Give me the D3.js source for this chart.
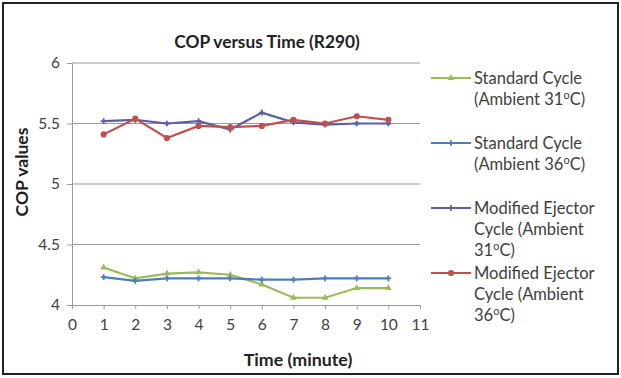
<!DOCTYPE html>
<html><head><meta charset="utf-8">
<script src="https://cdn.jsdelivr.net/npm/d3@7"></script>
<style>body{margin:0;background:#fff;} svg{display:block;}</style>
</head><body>
<svg id="c" width="621" height="378"></svg>
<script>
const minutes = [1,2,3,4,5,6,7,8,9,10];
const std31 = [4.31,4.22,4.26,4.27,4.25,4.17,4.06,4.06,4.14,4.14];
const std36 = [4.23,4.20,4.22,4.22,4.22,4.21,4.21,4.22,4.22,4.22];
const mod31 = [5.52,5.53,5.50,5.52,5.45,5.59,5.51,5.49,5.50,5.50];
const mod36 = [5.41,5.54,5.38,5.48,5.47,5.48,5.53,5.50,5.56,5.53];
const xTicks = [0,1,2,3,4,5,6,7,8,9,10,11];
const yTicks = [4,4.5,5,5.5,6];
const seriesNames = [
  ["Standard Cycle","(Ambient 31","C)"],
  ["Standard Cycle","(Ambient 36","C)"],
  ["Modified Ejector","Cycle (Ambient","31","C)"],
  ["Modified Ejector","Cycle (Ambient","36","C)"]
];
const colors = ["#9bbb59","#4a7ebb","#5b5ea6","#c0504d"];
const data = [std31,std36,mod31,mod36];

const svg = d3.select("#c");
const font = "Lato, 'Open Sans', sans-serif";
svg.append("rect").attr("x",3).attr("y",3).attr("width",615).attr("height",371)
  .attr("fill","#fff").attr("stroke","#222").attr("stroke-width",2);

const x = d3.scaleLinear().domain([0,11]).range([72,420]);
const y = d3.scaleLinear().domain([4,6]).range([305,63]);

// gridlines
svg.append("g").selectAll("line").data(yTicks.filter(d=>d>4)).join("line")
  .attr("x1",72).attr("x2",420).attr("y1",d=>y(d)).attr("y2",d=>y(d))
  .attr("stroke","#9a9a9a").attr("stroke-width",1);

const xAxis = svg.append("g").attr("transform","translate(0,305)")
  .call(d3.axisBottom(x).tickValues(xTicks).tickSize(4).tickPadding(10).tickFormat(d3.format("d")));
const yAxis = svg.append("g").attr("transform","translate(72,0)")
  .call(d3.axisLeft(y).tickValues(yTicks).tickSize(5).tickPadding(7).tickFormat(d=>d));
[xAxis,yAxis].forEach(a=>{
  a.select(".domain").attr("stroke","#9a9a9a");
  a.selectAll(".tick line").attr("stroke","#9a9a9a");
  a.selectAll("text").attr("font-family",font).attr("font-size",15.5).attr("fill","#404040");
});

const line = d3.line().x((d,i)=>x(minutes[i])).y(d=>y(d));
const sym = [d3.symbolTriangle, d3.symbolCross, d3.symbolCross, d3.symbolCircle];
const symSize = [20,18,18,30];
data.forEach((vals,k)=>{
  svg.append("path").datum(vals).attr("d",line).attr("fill","none")
    .attr("stroke",colors[k]).attr("stroke-width",2.2);
  svg.append("g").selectAll("path").data(vals).join("path")
    .attr("transform",(d,i)=>`translate(${x(minutes[i])},${y(d)})`)
    .attr("d",d3.symbol().type(sym[k]).size(symSize[k]))
    .attr("fill",colors[k]);
});

// titles
svg.append("text").attr("x",267).attr("y",48).attr("text-anchor","middle")
  .attr("font-family",font).attr("font-weight","bold").attr("font-size",17.3).attr("fill","#222")
  .text("COP versus Time (R290)");
svg.append("text").attr("x",298).attr("y",366).attr("text-anchor","middle")
  .attr("font-family",font).attr("font-weight","bold").attr("font-size",17.8).attr("fill","#222")
  .text("Time (minute)");
svg.append("text").attr("transform","translate(28,172) rotate(-90)").attr("text-anchor","middle")
  .attr("font-family",font).attr("font-weight","bold").attr("font-size",17.5).attr("fill","#222")
  .text("COP values");

// legend
const legY = [78,143,208,273];
seriesNames.forEach((lines,k)=>{
  const g = svg.append("g");
  g.append("line").attr("x1",431).attr("x2",471).attr("y1",legY[k]).attr("y2",legY[k])
    .attr("stroke",colors[k]).attr("stroke-width",2.2);
  g.append("path").attr("transform",`translate(451,${legY[k]})`)
    .attr("d",d3.symbol().type(sym[k]).size(symSize[k])).attr("fill",colors[k]);
  const t = g.append("text").attr("font-family",font).attr("font-size",16.5).attr("fill","#404040");
  const n = lines.length;
  const plain = lines.slice(0,n-2);
  plain.forEach((s,i)=>{
    t.append("tspan").attr("x",474).attr("y",legY[k]+6+i*21).text(s);
  });
  const lastY = legY[k]+6+(n-2)*21;
  t.append("tspan").attr("x",474).attr("y",lastY).text(lines[n-2]);
  t.append("tspan").attr("dy",-6).attr("font-size",11).text("o");
  t.append("tspan").attr("dy",6).text(lines[n-1]);
});
</script>
</body></html>
